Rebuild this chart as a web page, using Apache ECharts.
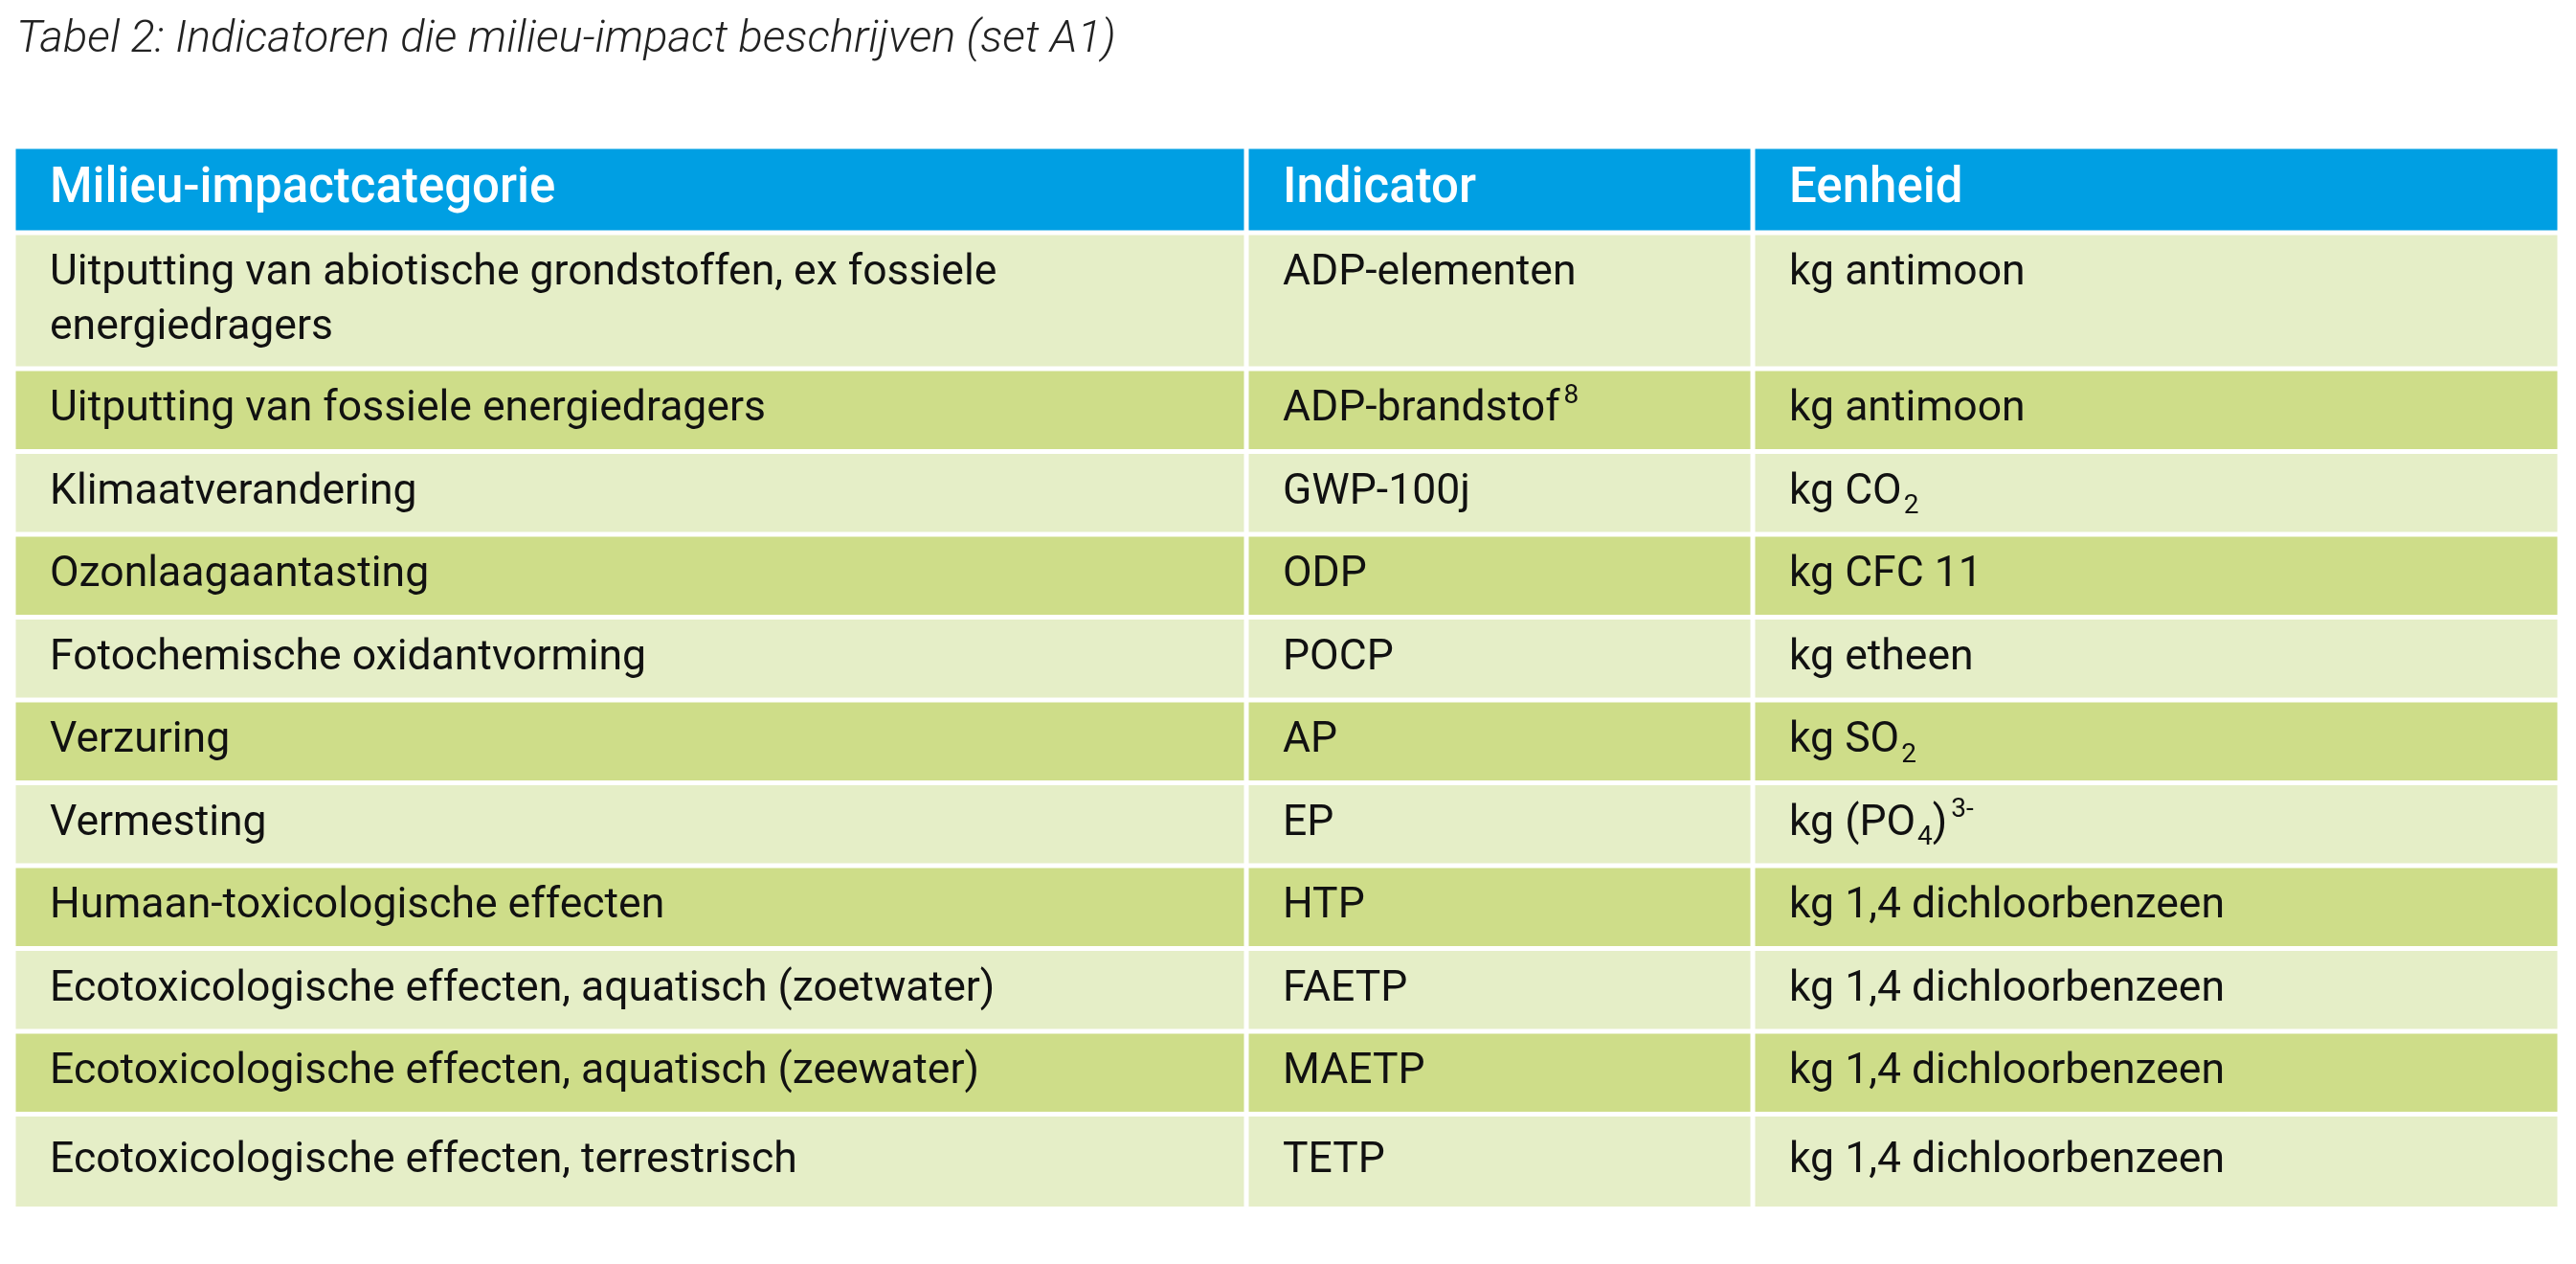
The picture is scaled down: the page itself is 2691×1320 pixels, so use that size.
<!DOCTYPE html>
<html><head><meta charset="utf-8">
<script src="https://cdn.jsdelivr.net/npm/echarts@6/dist/echarts.min.js"></script>
<style>html,body{margin:0;padding:0;background:#fff}#c{width:2691px;height:1320px}</style>
</head><body><div id="c"></div>
<script>
var title = 'Tabel 2: Indicatoren die milieu-impact beschrijven (set A1)';
var headers = ['Milieu-impactcategorie', 'Indicator', 'Eenheid'];
var categories = [
  'Uitputting van abiotische grondstoffen, ex fossiele\nenergiedragers',
  'Uitputting van fossiele energiedragers',
  'Klimaatverandering',
  'Ozonlaagaantasting',
  'Fotochemische oxidantvorming',
  'Verzuring',
  'Vermesting',
  'Humaan-toxicologische effecten',
  'Ecotoxicologische effecten, aquatisch (zoetwater)',
  'Ecotoxicologische effecten, aquatisch (zeewater)',
  'Ecotoxicologische effecten, terrestrisch'
];
var indicators = ['ADP-elementen', 'ADP-brandstof{sup|8}', 'GWP-100j', 'ODP', 'POCP', 'AP', 'EP', 'HTP', 'FAETP', 'MAETP', 'TETP'];
var units = ['kg antimoon', 'kg antimoon', 'kg CO{sub|2}', 'kg CFC 11', 'kg etheen', 'kg SO{sub|2}', 'kg (PO{sub|4}){sup|3-}', 'kg 1,4 dichloorbenzeen', 'kg 1,4 dichloorbenzeen', 'kg 1,4 dichloorbenzeen', 'kg 1,4 dichloorbenzeen'];

// layout (units = px of table)
var colEdges = [0, 1288, 1817, 2660];
var headerH = 90, singleH = 86.5, doubleH = 142, lastH = 99;
var lineH = 57;
var rowHeights = [headerH];
categories.forEach(function (c, i) {
  rowHeights.push(c.indexOf('\n') >= 0 ? doubleH : (i === categories.length - 1 ? lastH : singleH));
});
var rowEdges = [0];
rowHeights.forEach(function (h) { rowEdges.push(rowEdges[rowEdges.length - 1] + h); });
var total = rowEdges[rowEdges.length - 1];

var cells = [];
for (var r = 0; r < rowHeights.length; r++) {
  for (var c = 0; c < 3; c++) {
    var txt = r === 0 ? headers[c] : [categories, indicators, units][c][r - 1];
    var twoLine = r > 0 && categories[r - 1].indexOf('\n') >= 0 && c > 0;
    cells.push({ value: [c, r], txt: txt, shift: twoLine ? -lineH / 2 : 0 });
  }
}
var colors = { header: '#009FE3', light: '#E5EEC7', dark: '#CEDD89' };
var rich = {
  sup: { fontSize: 28, fontFamily: 'Roboto', color: '#111', verticalAlign: 'top', lineHeight: 30, padding: [0, 0, 16, 4] },
  sub: { fontSize: 28, fontFamily: 'Roboto', color: '#111', verticalAlign: 'bottom', lineHeight: 30, padding: [20, 0, 0, 2] }
};

var chart = echarts.init(document.getElementById('c'));
chart.setOption({
  animation: false,
  title: { text: title, left: 12, top: 14, textStyle: { fontFamily: 'Roboto', fontStyle: 'italic', fontWeight: 300, fontSize: 47, color: '#222' } },
  grid: { left: 14, right: 17, top: 153, bottom: 1320 - 153 - total },
  xAxis: { type: 'value', min: 0, max: colEdges[3], show: false },
  yAxis: { type: 'value', min: 0, max: total, inverse: true, show: false },
  series: [{
    type: 'custom',
    data: cells,
    renderItem: function (params, api) {
      var c = api.value(0), r = api.value(1);
      var p0 = api.coord([colEdges[c], rowEdges[r]]);
      var p1 = api.coord([colEdges[c + 1], rowEdges[r + 1]]);
      var g = 2.5;
      var fill = r === 0 ? colors.header : (r % 2 === 1 ? colors.light : colors.dark);
      var cell = cells[params.dataIndex];
      return {
        type: 'group',
        children: [
          { type: 'rect', shape: { x: p0[0] + g, y: p0[1] + g, width: p1[0] - p0[0] - 2 * g, height: p1[1] - p0[1] - 2 * g }, style: { fill: fill } },
          { type: 'text', x: p0[0] + 38, y: (p0[1] + p1[1]) / 2 + cell.shift,
            style: { text: cell.txt, verticalAlign: 'middle', align: 'left',
              fontFamily: 'Roboto', fontSize: r === 0 ? 51 : 44.5, fontWeight: r === 0 ? 500 : 400,
              fill: r === 0 ? '#fff' : '#111', lineHeight: lineH, rich: rich } }
        ]
      };
    }
  }]
});
</script></body></html>
